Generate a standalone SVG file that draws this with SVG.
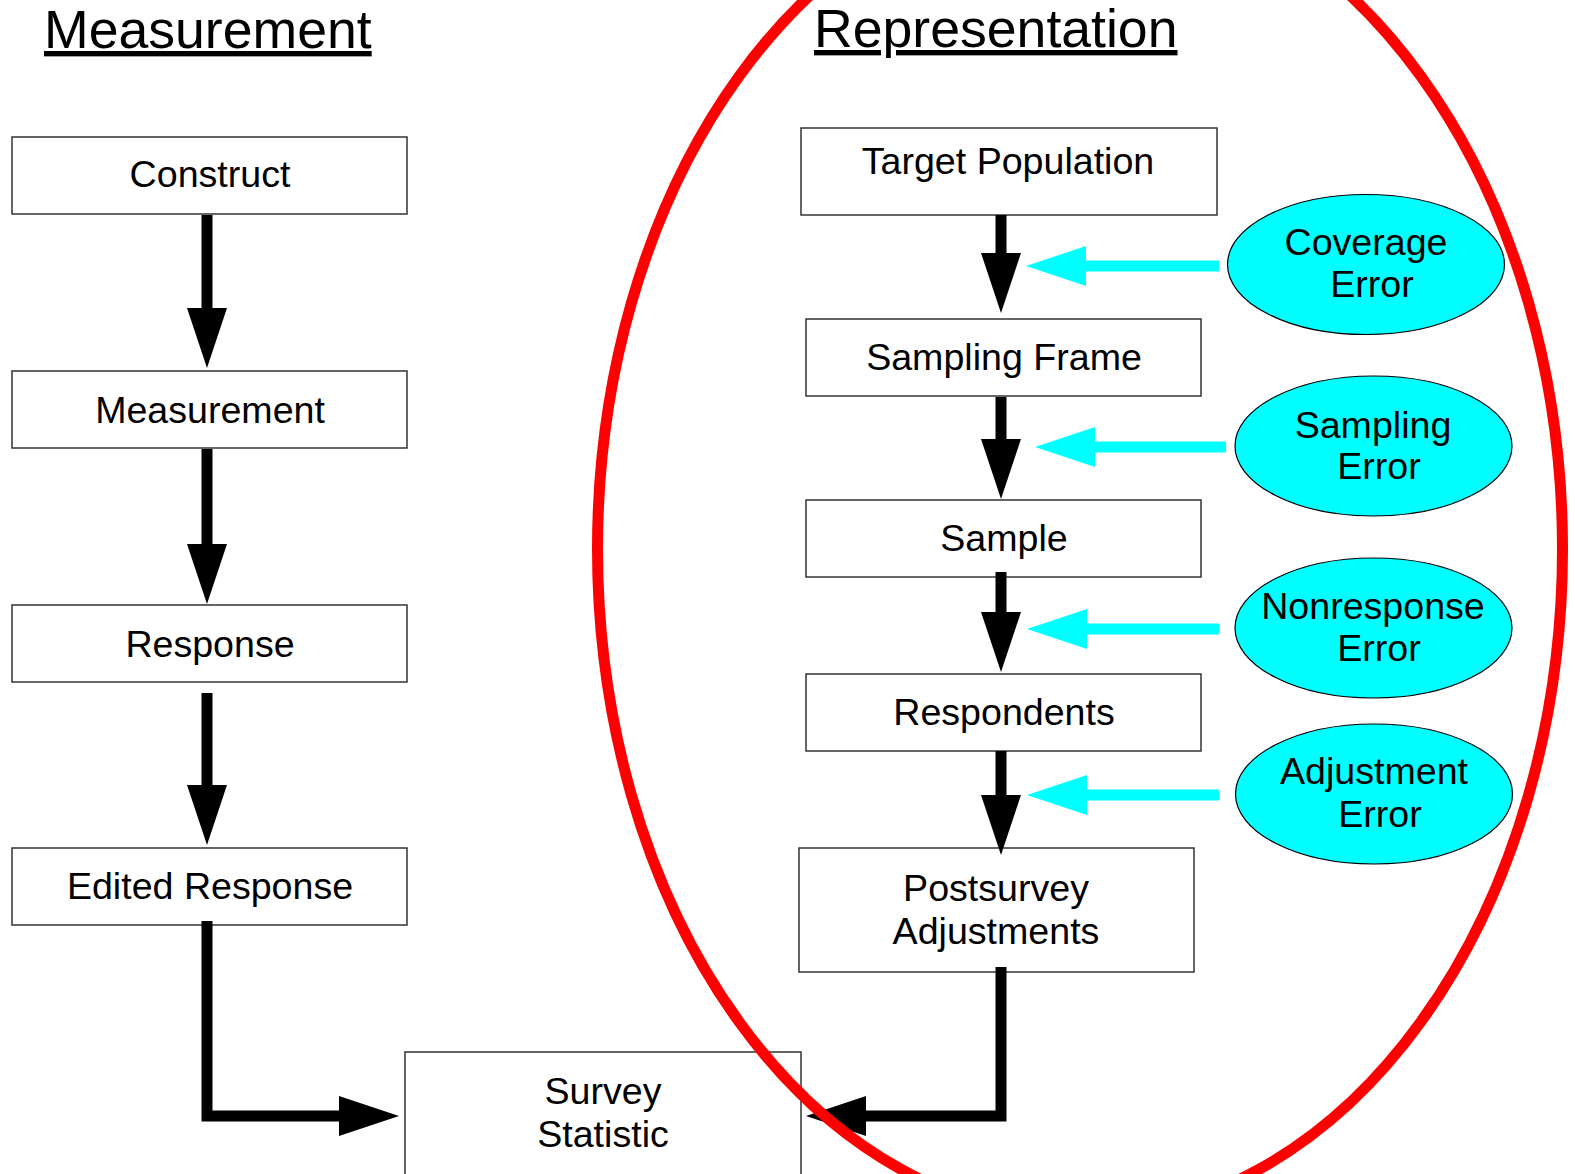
<svg xmlns="http://www.w3.org/2000/svg" width="1575" height="1174" viewBox="0 0 1575 1174">
<style>
text{font-family:"Liberation Sans",Arial,sans-serif;fill:#000}
.t{font-size:37.6px;text-anchor:middle}
.h{font-size:53.6px;text-decoration:underline}
.box{fill:#fff;stroke:#333;stroke-width:1.5}
.err{fill:#00ffff;stroke:#000;stroke-width:1.2}
.blk{fill:none;stroke:#000;stroke-width:11;marker-end:url(#ah)}
.cy{fill:none;stroke:#00ffff;stroke-width:11;marker-end:url(#ahc)}
</style>
<defs>
<marker id="ah" viewBox="0 0 60 40" markerWidth="60" markerHeight="40" markerUnits="userSpaceOnUse" refX="0" refY="20" orient="auto"><path d="M0,0 L60,20 L0,40 z" fill="#000"/></marker>
<marker id="ahc" viewBox="0 0 60 40" markerWidth="60" markerHeight="40" markerUnits="userSpaceOnUse" refX="0" refY="20" orient="auto"><path d="M0,0 L60,20 L0,40 z" fill="#00ffff"/></marker>
</defs>
<rect width="1575" height="1174" fill="#fff"/>
<text class="h" x="44" y="48">Measurement</text>
<text class="h" x="814" y="47">Representation</text>

<g id="construct"><rect class="box" x="12" y="137" width="395" height="77"/><text class="t" x="210" y="187">Construct</text></g>
<g id="measurement"><rect class="box" x="12" y="371" width="395" height="77"/><text class="t" x="210" y="423">Measurement</text></g>
<g id="response"><rect class="box" x="12" y="605" width="395" height="77"/><text class="t" x="210" y="657">Response</text></g>
<g id="edited-response"><rect class="box" x="12" y="848" width="395" height="77"/><text class="t" x="210" y="899">Edited Response</text></g>

<g id="target-population"><rect class="box" x="801" y="128" width="416" height="87"/><text class="t" x="1008" y="174">Target Population</text></g>
<g id="sampling-frame"><rect class="box" x="806" y="319" width="395" height="77"/><text class="t" x="1004" y="370">Sampling Frame</text></g>
<g id="sample"><rect class="box" x="806" y="500" width="395" height="77"/><text class="t" x="1004" y="551">Sample</text></g>
<g id="respondents"><rect class="box" x="806" y="674" width="395" height="77"/><text class="t" x="1004" y="725">Respondents</text></g>
<g id="postsurvey-adjustments"><rect class="box" x="799" y="848" width="395" height="124"/><text class="t" x="996" y="901">Postsurvey</text><text class="t" x="996" y="944">Adjustments</text></g>
<g id="survey-statistic"><rect class="box" x="405" y="1052" width="396" height="140"/><text class="t" x="603" y="1104">Survey</text><text class="t" x="603" y="1147">Statistic</text></g>

<g id="coverage-error"><ellipse class="err" cx="1366" cy="264.5" rx="138.5" ry="70"/><text class="t" x="1366" y="255">Coverage</text><text class="t" x="1372" y="297">Error</text></g>
<g id="sampling-error"><ellipse class="err" cx="1373.5" cy="446" rx="138.5" ry="70"/><text class="t" x="1373" y="438">Sampling</text><text class="t" x="1379" y="479">Error</text></g>
<g id="nonresponse-error"><ellipse class="err" cx="1373.5" cy="628" rx="138.5" ry="70"/><text class="t" x="1373" y="619">Nonresponse</text><text class="t" x="1379" y="661">Error</text></g>
<g id="adjustment-error"><ellipse class="err" cx="1374" cy="794" rx="138.5" ry="70"/><text class="t" x="1374" y="784">Adjustment</text><text class="t" x="1380" y="827">Error</text></g>

<g id="connectors">
<path class="blk" d="M207,215 V308"/>
<path class="blk" d="M207,449 V544"/>
<path class="blk" d="M207,693 V785"/>
<path class="blk" d="M207,921 V1116 H339"/>
<path class="blk" d="M1001,215 V253"/>
<path class="blk" d="M1001,397 V439"/>
<path class="blk" d="M1001,572 V612"/>
<path class="blk" d="M1001,751 V795"/>
<path class="blk" d="M1001,967 V1116 H866"/>
<path class="cy" d="M1219,266 H1086"/>
<path class="cy" d="M1226,447 H1095"/>
<path class="cy" d="M1219,629 H1087"/>
<path class="cy" d="M1219,795 H1087"/>
</g>

<ellipse id="representation-outline" cx="1080" cy="549" rx="482.5" ry="668" fill="none" stroke="#ff0000" stroke-width="11"/>
</svg>
